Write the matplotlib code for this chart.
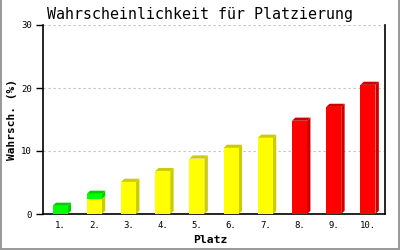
import matplotlib
matplotlib.use("Agg")
import matplotlib.pyplot as plt
import numpy as np
from matplotlib.patches import Polygon
from matplotlib.lines import Line2D

# ---------------------------------------------------------------------------
# Data
# ---------------------------------------------------------------------------
places = ["1.", "2.", "3.", "4.", "5.", "6.", "7.", "8.", "9.", "10."]
yellow = [0.0, 2.4, 5.1, 6.8, 8.8, 10.5, 12.1, 0.0, 0.0, 0.0]
green  = [1.3, 0.8, 0.0, 0.0, 0.0, 0.0, 0.0, 0.0, 0.0, 0.0]
red    = [0.0, 0.0, 0.0, 0.0, 0.0, 0.0, 0.0, 14.8, 17.0, 20.5]

y_ticks = [0, 10, 20, 30]

# stacking order bottom -> top, (front colour, shade colour)
SERIES = [
    (yellow, "#ffff00", "#cccc00"),
    (green,  "#00ff00", "#00cc00"),
    (red,    "#ff0000", "#cc0000"),
]

MONO = "DejaVu Sans Mono"
BAR_W = 0.44
DX, DY = 0.1, 0.5      # 3-d depth offset (about 3 px each way)

fig = plt.figure(figsize=(4.0, 2.5), dpi=100)
ax = fig.add_axes([0.1075, 0.144, 0.855, 0.756])

x = np.arange(len(places))
bottom = np.zeros(len(places))
tops = {}  # bar index -> (top value, shade colour) of uppermost segment
for vals, face, shade in SERIES:
    vals = np.asarray(vals)
    for i, v in enumerate(vals):
        if v <= 0:
            continue
        x1 = x[i] + BAR_W / 2
        b, t = bottom[i], bottom[i] + v
        # side face
        ax.add_patch(Polygon([(x1, b), (x1 + DX, b + DY), (x1 + DX, t + DY), (x1, t)],
                             closed=True, facecolor=shade, edgecolor="none", zorder=3))
        # front face
        ax.bar(x[i], v, bottom=b, width=BAR_W, color=face, edgecolor="none", zorder=4)
        tops[i] = (t, shade)
    bottom += vals

# top faces for the uppermost segment of each bar
for i, (t, shade) in tops.items():
    x0, x1 = x[i] - BAR_W / 2, x[i] + BAR_W / 2
    ax.add_patch(Polygon([(x0, t), (x0 + DX, t + DY), (x1 + DX, t + DY), (x1, t)],
                         closed=True, facecolor=shade, edgecolor="none", zorder=3))

ax.set_xlim(-0.5, len(places) - 0.5)
ax.set_ylim(0, 30)
ax.set_yticks(y_ticks)
ax.set_yticklabels([str(v) for v in y_ticks], family=MONO, fontsize=6.5)
ax.set_xticks(x)
ax.set_xticklabels(places, family=MONO, fontsize=6.5)
ax.tick_params(axis="x", length=0, pad=5)
ax.tick_params(axis="y", length=5, width=1, direction="out", pad=3)

for v in y_ticks[1:]:
    ax.axhline(v, color="#c0c0c0", linewidth=0.8, linestyle=(0, (2, 2.5)), zorder=1)

ax.spines["top"].set_visible(False)
for s in ("left", "bottom", "right"):
    ax.spines[s].set_linewidth(1.2)
    ax.spines[s].set_color("black")

ax.set_xlabel("Platz", family=MONO, fontweight="bold", fontsize=8.2)
ax.xaxis.set_label_coords(0.49, -0.14)
ax.xaxis.label.set_va("center")
ax.set_ylabel("Wahrsch. (%)", family=MONO, fontweight="bold", fontsize=8.0)
ax.yaxis.set_label_coords(-0.09, 0.5)
ax.yaxis.label.set_va("center")
fig.text(0.5, 0.944, "Wahrscheinlichkeit für Platzierung", family=MONO,
         fontsize=10.8, ha="center", va="center")

# gray frame (left, bottom, right)
for xs, ys in [([0.0015, 0.0015], [0, 1]), ([0, 1], [0.006, 0.006]), ([0.9975, 0.9975], [0, 1])]:
    fig.add_artist(Line2D(xs, ys, transform=fig.transFigure, color="#999999", linewidth=1.4))

fig.savefig("out.png", dpi=100)
